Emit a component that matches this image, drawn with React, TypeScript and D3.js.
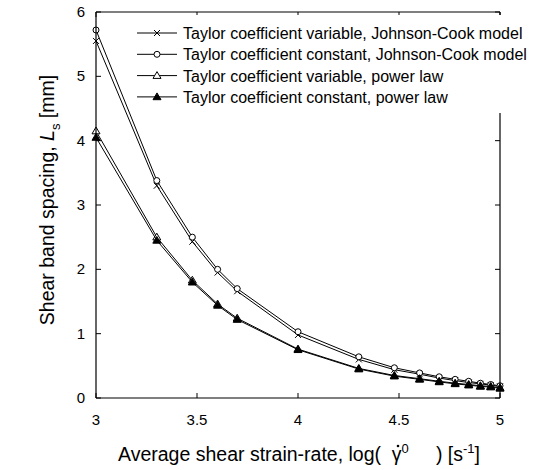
import React from "react";
import * as d3 from "d3";

const logRates = [3, 3.301, 3.477, 3.602, 3.699, 4, 4.301, 4.477, 4.602, 4.699, 4.778, 4.845, 4.903, 4.954, 5];
const jcVariable = [5.55, 3.3, 2.43, 1.95, 1.66, 0.98, 0.6, 0.44, 0.37, 0.31, 0.27, 0.24, 0.22, 0.2, 0.18];
const jcConstant = [5.72, 3.38, 2.5, 2.0, 1.7, 1.03, 0.64, 0.47, 0.39, 0.33, 0.29, 0.26, 0.23, 0.21, 0.19];
const plVariable = [4.15, 2.5, 1.83, 1.46, 1.24, 0.76, 0.46, 0.35, 0.3, 0.26, 0.23, 0.21, 0.19, 0.18, 0.16];
const plConstant = [4.05, 2.45, 1.8, 1.44, 1.22, 0.75, 0.45, 0.34, 0.29, 0.25, 0.22, 0.2, 0.18, 0.17, 0.15];
const seriesNames = [
  "Taylor coefficient variable, Johnson-Cook model",
  "Taylor coefficient constant, Johnson-Cook model",
  "Taylor coefficient variable, power law",
  "Taylor coefficient constant, power law",
];
const seriesMarkers = ["cross", "circle", "triangle", "triangleFilled"];
const xTicks = [3, 3.5, 4, 4.5, 5];
const xTickLabels = ["3", "3.5", "4", "4.5", "5"];
const yTicks = [0, 1, 2, 3, 4, 5, 6];

const W = 538, H = 470;
const L = 96, R = 500, T = 12, B = 398;
const FONT = "'Liberation Sans', Arial, sans-serif";

function Marker({ type, x, y }: { type: string; x: number; y: number }) {
  if (type === "cross") {
    const s = 3;
    return (
      <path d={`M${x - s},${y - s}L${x + s},${y + s}M${x - s},${y + s}L${x + s},${y - s}`} stroke="#000" strokeWidth={1} fill="none" />
    );
  }
  if (type === "circle") {
    return <circle cx={x} cy={y} r={3} fill="#fff" stroke="#000" strokeWidth={1} />;
  }
  const s = 4;
  const d = `M${x},${y - s}L${x + s},${y + s * 0.7}L${x - s},${y + s * 0.7}Z`;
  return <path d={d} fill={type === "triangleFilled" ? "#000" : "#fff"} stroke="#000" strokeWidth={1} />;
}

export default function App() {
  const x = d3.scaleLinear().domain([3, 5]).range([L, R]);
  const y = d3.scaleLinear().domain([0, 6]).range([B, T]);
  const all = [jcVariable, jcConstant, plVariable, plConstant];
  const line = d3
    .line<number>()
    .x((_, i) => x(logRates[i]))
    .y((d) => y(d));

  const legendX = 137;
  const legendY0 = 33;
  const legendDy = 21.3;

  return (
    <svg width={W} height={H} style={{ display: "block", position: "absolute", left: 0, top: 0 }} fontFamily={FONT}>
      <rect width={W} height={H} fill="#fff" />
      {all.map((s, k) => (
        <g key={k}>
          <path d={line(s) || ""} fill="none" stroke="#000" strokeWidth={1} />
          {s.map((v, i) => (
            <Marker key={i} type={seriesMarkers[k]} x={x(logRates[i])} y={y(v)} />
          ))}
        </g>
      ))}
      <line x1={L} x2={L} y1={T} y2={B} stroke="#000" strokeWidth={1.2} />
      <line x1={L} x2={R} y1={B} y2={B} stroke="#000" strokeWidth={1.2} />
      <line x1={L} x2={R} y1={T} y2={T} stroke="#000" strokeWidth={1.2} />
      <line x1={R} x2={R} y1={T} y2={B} stroke="#000" strokeWidth={1.2} />
      {xTicks.map((t, i) => (
        <g key={"x" + i}>
          <line x1={x(t)} x2={x(t)} y1={B} y2={B - 5} stroke="#000" />
          <line x1={x(t)} x2={x(t)} y1={T} y2={T + 5} stroke="#000" />
          <text x={x(t)} y={B + 27} textAnchor="middle" fontSize={15} fill="#000">
            {xTickLabels[i]}
          </text>
        </g>
      ))}
      {yTicks.map((t, i) => (
        <g key={"y" + i}>
          <line x1={L} x2={L + 5} y1={y(t)} y2={y(t)} stroke="#000" />
          <line x1={R} x2={R - 5} y1={y(t)} y2={y(t)} stroke="#000" />
          <text x={L - 11} y={y(t) + 5} textAnchor="end" fontSize={15} fill="#000">
            {t}
          </text>
        </g>
      ))}
      <rect x={132} y={15} width={406} height={98} fill="#fff" />
      {seriesNames.map((n, k) => {
        const ly = legendY0 + k * legendDy;
        return (
          <g key={"l" + k}>
            <line x1={legendX} x2={legendX + 40} y1={ly} y2={ly} stroke="#000" />
            <Marker type={seriesMarkers[k]} x={legendX + 20} y={ly} />
            <text x={183} y={ly + 6} fontSize={16} fill="#000">
              {n}
            </text>
          </g>
        );
      })}
      <text x={118} y={461} fontSize={19.5} fill="#000" style={{ whiteSpace: "pre" }}>
        <tspan>{"Average shear strain-rate, log(  \u03B3"}</tspan>
        <tspan dy={-8} fontSize={13}>0</tspan>
        <tspan dy={8}>{"     ) [s"}</tspan>
        <tspan dy={-8} fontSize={13}>-1</tspan>
        <tspan dy={8}>]</tspan>
      </text>
      <circle cx={398} cy={446} r={1.3} fill="#000" />
      <text transform="translate(54,200) rotate(-90)" textAnchor="middle" fontSize={19.5} fill="#000">
        <tspan>Shear band spacing, </tspan>
        <tspan fontStyle="italic">L</tspan>
        <tspan dy={6} fontSize={13}>s</tspan>
        <tspan dy={-6}> [mm]</tspan>
      </text>
    </svg>
  );
}
